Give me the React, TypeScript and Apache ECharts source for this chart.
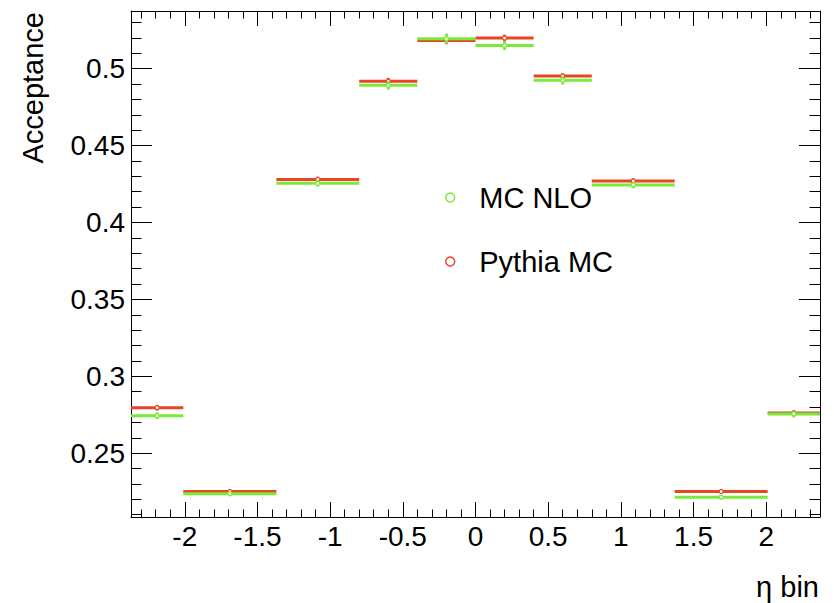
import React, { useEffect, useRef } from "react";
import * as echarts from "echarts";

// eta bin edges
const binEdges = [-2.37, -2.01, -1.37, -0.8, -0.4, 0, 0.4, 0.8, 1.37, 2.01, 2.37];
// acceptance values per bin
const mcNloValues = [0.2744, 0.2236, 0.4255, 0.4892, 0.5195, 0.5151, 0.4924, 0.4244, 0.2214, 0.2755];
const mcNloErrors = [0.0022, 0.0015, 0.0022, 0.0028, 0.0033, 0.003, 0.0027, 0.0022, 0.0015, 0.0022];
const pythiaValues = [0.2796, 0.2251, 0.428, 0.4918, 0.5184, 0.5199, 0.4952, 0.427, 0.2251, 0.2762];
const pythiaErrors = [0.0018, 0.0012, 0.0018, 0.0022, 0.0025, 0.0022, 0.0018, 0.0018, 0.0012, 0.0018];
// tick labels
const xTickLabels = [-2, -1.5, -1, -0.5, 0, 0.5, 1, 1.5, 2];
const yTickLabels = [0.25, 0.3, 0.35, 0.4, 0.45, 0.5];

const xMinorTicks: number[] = [];
for (let i = -23; i <= 23; i++) xMinorTicks.push(i / 10);
const yMinorTicks: number[] = [];
for (let i = 21; i <= 53; i++) yMinorTicks.push(i / 100);

const X_MIN = -2.37;
const X_MAX = 2.37;
const Y_MIN = 0.2085;
const Y_MAX = 0.5375;

const GREEN = "#78ea3a";
const RED = "#ea4424";
const FONT = "'Liberation Sans', Arial, Helvetica, sans-serif";

function rows(values: number[], errors: number[]) {
  return values.map((v, i) => [binEdges[i], binEdges[i + 1], v, errors[i]]);
}

function makeRender(color: string) {
  return (params: any, api: any) => {
    const lo = api.value(0);
    const hi = api.value(1);
    const v = api.value(2);
    const e = api.value(3);
    const mid = (lo + hi) / 2;
    const p1 = api.coord([lo, v]);
    const p2 = api.coord([hi, v]);
    const c = api.coord([mid, v]);
    const t = api.coord([mid, v + e]);
    const b = api.coord([mid, v - e]);
    return {
      type: "group",
      children: [
        { type: "line", shape: { x1: p1[0], y1: p1[1], x2: p2[0], y2: p2[1] }, style: { stroke: color, lineWidth: 3 } },
        { type: "line", shape: { x1: c[0], y1: t[1], x2: c[0], y2: b[1] }, style: { stroke: color, lineWidth: 3 } },
        { type: "circle", shape: { cx: c[0], cy: c[1], r: 2 }, style: { fill: "#fff", stroke: color, lineWidth: 1.2 } },
      ],
    };
  };
}

function xAxisDef(position: "bottom" | "top", major: boolean, withLabels: boolean) {
  return {
    type: "value",
    min: X_MIN,
    max: X_MAX,
    position,
    axisLine: { show: major, onZero: false, lineStyle: { color: "#000", width: 1 } },
    axisTick: {
      show: true,
      inside: true,
      length: major ? 15 : 7.5,
      customValues: major ? xTickLabels : xMinorTicks,
      lineStyle: { color: "#000", width: 1 },
    },
    axisLabel: withLabels
      ? { show: true, customValues: xTickLabels, fontSize: 28, fontFamily: FONT, color: "#000", margin: 5 }
      : { show: false },
    splitLine: { show: false },
    ...(withLabels
      ? {
          name: "η bin",
          nameLocation: "end",
          nameGap: -1,
          nameTextStyle: { fontSize: 29, fontFamily: FONT, color: "#000", align: "right", verticalAlign: "top", padding: [55, 0, 0, 0] },
        }
      : {}),
  };
}

function yAxisDef(position: "left" | "right", major: boolean, withLabels: boolean) {
  return {
    type: "value",
    min: Y_MIN,
    max: Y_MAX,
    position,
    axisLine: { show: major, onZero: false, lineStyle: { color: "#000", width: 1 } },
    axisTick: {
      show: true,
      inside: true,
      length: major ? 21 : 10.5,
      customValues: major ? yTickLabels : yMinorTicks,
      lineStyle: { color: "#000", width: 1 },
    },
    axisLabel: withLabels
      ? { show: true, customValues: yTickLabels, fontSize: 28, fontFamily: FONT, color: "#000", margin: 6, padding: [7, 0, 0, 0] }
      : { show: false },
    splitLine: { show: false },
    ...(withLabels
      ? {
          name: "Acceptance",
          nameLocation: "end",
          nameRotate: 90,
          nameGap: -1,
          nameTextStyle: { fontSize: 29, fontFamily: FONT, color: "#000", align: "right", verticalAlign: "bottom", padding: [0, 0, 84, 0] },
        }
      : {}),
  };
}

export default function App() {
  const ref = useRef<HTMLDivElement>(null);
  useEffect(() => {
    if (!ref.current) return;
    const chart = echarts.init(ref.current, null, { renderer: "svg" });
    chart.setOption({
      animation: false,
      backgroundColor: "#fff",
      grid: { left: 131, right: 14, top: 11, bottom: 86, containLabel: false },
      xAxis: [
        xAxisDef("bottom", true, true),
        xAxisDef("top", true, false),
        xAxisDef("bottom", false, false),
        xAxisDef("top", false, false),
      ],
      yAxis: [
        yAxisDef("left", true, true),
        yAxisDef("right", true, false),
        yAxisDef("left", false, false),
        yAxisDef("right", false, false),
      ],
      legend: {
        orient: "vertical",
        left: 440,
        top: 178,
        itemWidth: 48,
        itemHeight: 9,
        itemGap: 35,
        symbolKeepAspect: true,
        textStyle: { fontSize: 29, fontFamily: FONT, color: "#000" },
        data: [
          { name: "MC NLO", icon: "circle", itemStyle: { color: "#fff", borderColor: GREEN, borderWidth: 1.5 } },
          { name: "Pythia MC", icon: "circle", itemStyle: { color: "#fff", borderColor: RED, borderWidth: 1.5 } },
        ],
      },
      series: [
        {
          name: "Pythia MC",
          type: "custom",
          xAxisIndex: 0,
          yAxisIndex: 0,
          itemStyle: { color: RED },
          encode: { x: [0, 1], y: 2 },
          renderItem: makeRender(RED),
          data: rows(pythiaValues, pythiaErrors),
        },
        {
          name: "MC NLO",
          type: "custom",
          xAxisIndex: 0,
          yAxisIndex: 0,
          itemStyle: { color: GREEN },
          encode: { x: [0, 1], y: 2 },
          renderItem: makeRender(GREEN),
          data: rows(mcNloValues, mcNloErrors),
        },
      ],
    });
    return () => chart.dispose();
  }, []);
  return <div ref={ref} style={{ position: "fixed", left: 0, top: 0, width: 834, height: 603 }} />;
}
